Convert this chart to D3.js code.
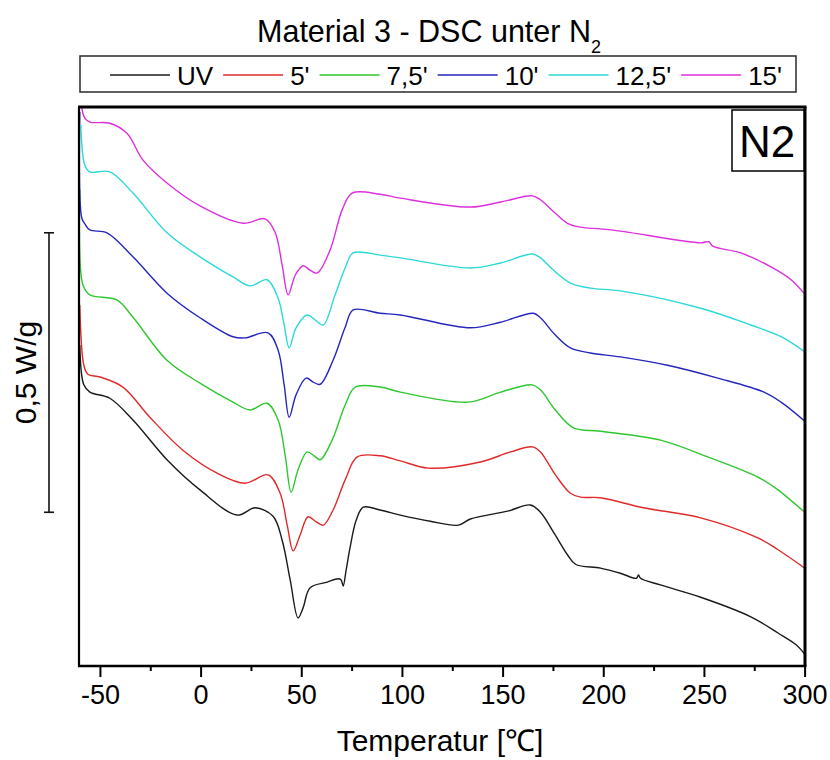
<!DOCTYPE html>
<html>
<head>
<meta charset="utf-8">
<script src="https://cdn.jsdelivr.net/npm/d3@7"></script>
<style>
  body { margin: 0; background: #fff; }
  svg { display: block; font-family: "Liberation Sans", Arial, Helvetica, sans-serif; }
</style>
</head>
<body>
<svg id="chart" width="830" height="760"></svg>
<script>
// DSC heat-flow traces (W/g, vertically offset) for different UV exposure times
const seriesNames = ["UV", "5'", "7,5'", "10'", "12,5'", "15'"];
const seriesColors = ["#1a1a1a", "#e02a2a", "#2fc72f", "#2626bf", "#2bd9d9", "#dc30dc"];

const uvTemp = [-60.0,-58.0,-55.0,-45.1,-33.6,-16.7,-0.3,18.1,27.1,36.0,40.5,44.5,48.4,50.9,54.4,62.9,68.3,69.8,70.8,72.3,74.3,77.3,80.8,89.2,99.2,114.1,128.0,134.0,152.5,163.8,168.8,176.2,182.2,186.2,198.6,208.5,216.5,217.5,218.5,228.4,248.4,273.3,286.8,295.8,300.1];
const uvFlow = [0.574,0.503,0.490,0.479,0.440,0.369,0.315,0.270,0.283,0.268,0.225,0.154,0.086,0.104,0.140,0.150,0.156,0.154,0.143,0.172,0.213,0.261,0.284,0.279,0.270,0.259,0.252,0.263,0.277,0.288,0.275,0.234,0.199,0.182,0.175,0.166,0.157,0.163,0.157,0.145,0.123,0.088,0.059,0.038,0.021];

const t5Temp = [-60,-58,-56,-50,-38.6,-25.2,-8.8,8.2,22.1,33.5,39.5,43.0,46.0,49.4,53.4,57.4,60.9,65.8,71.8,77.8,89.2,99.2,113.1,139.0,154.0,164.8,168.8,176.2,183.7,188.7,198.6,220.0,248.4,276.8,286.8,300.1];
const t5Flow = [0.646,0.538,0.522,0.517,0.499,0.445,0.386,0.345,0.327,0.342,0.309,0.252,0.206,0.234,0.267,0.258,0.252,0.279,0.333,0.374,0.376,0.367,0.354,0.365,0.383,0.392,0.383,0.342,0.309,0.302,0.301,0.283,0.265,0.229,0.208,0.175];

const t75Temp = [-60,-58.5,-55,-41.6,-33.6,-16.7,-0.3,16.1,24.6,33.0,38.5,42.0,45.0,48.4,52.9,56.4,59.4,65.3,71.8,76.8,89.2,99.2,133.0,149.0,164.8,168.8,176.2,185.2,198.6,228.4,251.9,276.8,286.8,300.1];
const t75Flow = [0.852,0.682,0.664,0.655,0.624,0.547,0.506,0.472,0.458,0.470,0.440,0.377,0.311,0.351,0.383,0.376,0.369,0.404,0.467,0.499,0.499,0.490,0.472,0.490,0.503,0.494,0.458,0.426,0.420,0.404,0.374,0.338,0.315,0.275];

const t10Temp = [-60,-59,-57.5,-55,-46.5,-33.6,-16.7,-0.3,16.1,22.1,33.5,38.5,41.5,44.0,47.4,52.4,55.9,59.4,65.8,71.8,75.8,89.2,99.2,134.0,149.0,165.3,168.8,176.2,183.7,193.6,208.5,231.9,256.9,279.8,288.3,300.1];
const t10Flow = [0.991,0.801,0.791,0.780,0.775,0.732,0.667,0.623,0.589,0.587,0.596,0.565,0.503,0.445,0.485,0.515,0.508,0.504,0.547,0.606,0.637,0.631,0.628,0.605,0.615,0.631,0.623,0.592,0.569,0.560,0.553,0.538,0.515,0.490,0.472,0.438];

const t125Temp = [-59.5,-57.5,-55,-45.1,-33.6,-16.7,-0.3,16.1,24.6,33.0,38.5,41.5,44.0,47.4,52.9,56.9,60.9,66.8,71.8,75.8,89.2,99.2,134.0,149.0,164.8,168.8,176.2,183.7,193.6,208.5,248.4,273.3,288.3,300.1];
const t125Flow = [0.968,0.896,0.884,0.884,0.846,0.775,0.732,0.696,0.680,0.691,0.658,0.610,0.569,0.605,0.628,0.619,0.610,0.664,0.712,0.739,0.735,0.730,0.712,0.721,0.737,0.730,0.705,0.685,0.676,0.671,0.640,0.610,0.589,0.562];

const t15Temp = [-59,-57.5,-55,-45.1,-36.6,-28.6,-16.7,-0.3,21.1,32.0,37.0,40.5,43.5,47.0,50.9,54.4,57.9,64.3,70.3,75.3,89.2,99.2,134.0,149.0,164.8,168.8,176.2,182.2,188.7,198.6,208.5,248.4,252.4,254.4,268.3,283.3,293.3,300.1];
const t15Flow = [0.998,0.980,0.973,0.971,0.953,0.905,0.864,0.823,0.792,0.800,0.776,0.717,0.664,0.699,0.716,0.708,0.703,0.744,0.816,0.846,0.844,0.837,0.821,0.830,0.841,0.834,0.810,0.792,0.785,0.782,0.778,0.757,0.759,0.751,0.739,0.714,0.691,0.665];

const majorTicks = [-50, 0, 50, 100, 150, 200, 250, 300];
const minorTicks = [-25, 25, 75, 125, 175, 225, 275];
const scaleBarBase = 0.275;   // W/g, lower end of the scale bar
const scaleBarSpan = 0.5;     // W/g
const scaleBarLabel = "0,5 W/g";

const temps = [uvTemp, t5Temp, t75Temp, t10Temp, t125Temp, t15Temp];
const flows = [uvFlow, t5Flow, t75Flow, t10Flow, t125Flow, t15Flow];
const series = seriesNames.map((name, i) => ({
  name, color: seriesColors[i],
  points: temps[i].map((t, j) => [t, flows[i][j]])
}));

const svg = d3.select("#chart");
const plot = { left: 79, right: 805, top: 107, bottom: 666 };

const x = d3.scaleLinear().domain([-60.4, 300.2]).range([plot.left, plot.right]);
const y = d3.scaleLinear().domain([0, 1]).range([plot.bottom, plot.top]);

// Title with subscript
const title = svg.append("text")
  .attr("x", 429).attr("y", 42)
  .attr("text-anchor", "middle")
  .attr("font-size", 30.5)
  .attr("fill", "#000");
title.append("tspan").text("Material 3 - DSC unter N");
title.append("tspan").attr("font-size", 18).attr("dy", 11).text("2");

// Legend box
const legend = svg.append("g");
legend.append("rect")
  .attr("x", 80).attr("y", 56).attr("width", 716).attr("height", 36)
  .attr("fill", "#fff").attr("stroke", "#2a2a2a").attr("stroke-width", 1.5);
let lx = 110;
series.forEach(s => {
  legend.append("line")
    .attr("x1", lx).attr("x2", lx + 60).attr("y1", 75).attr("y2", 75)
    .attr("stroke", s.color).attr("stroke-width", 1.6);
  const t = legend.append("text")
    .attr("x", lx + 67).attr("y", 85)
    .attr("font-size", 26).attr("fill", "#000")
    .text(s.name);
  lx = lx + 67 + t.node().getComputedTextLength() + 10;
});

// Clip region for the traces
svg.append("clipPath").attr("id", "plot-clip")
  .append("rect")
  .attr("x", plot.left).attr("y", plot.top)
  .attr("width", plot.right - plot.left).attr("height", plot.bottom - plot.top);

const line = d3.line()
  .x(d => x(d[0]))
  .y(d => y(d[1]))
  .curve(d3.curveCatmullRom.alpha(0.5));

const traces = svg.append("g").attr("clip-path", "url(#plot-clip)");
series.forEach(s => {
  traces.append("path")
    .datum(s.points)
    .attr("d", line)
    .attr("fill", "none")
    .attr("stroke", s.color)
    .attr("stroke-width", 1.4)
    .attr("stroke-linejoin", "round");
});

// Bottom axis: major ticks with labels, minor ticks without
const xAxis = d3.axisBottom(x)
  .tickValues(majorTicks)
  .tickFormat(d => String(d))
  .tickSize(11)
  .tickSizeOuter(0)
  .tickPadding(8);
const gx = svg.append("g")
  .attr("transform", `translate(0,${plot.bottom})`)
  .call(xAxis);
gx.select(".domain").remove();
gx.selectAll(".tick line").attr("stroke", "#000").attr("stroke-width", 2);
gx.selectAll(".tick text")
  .attr("font-size", 27)
  .attr("font-family", "\"Liberation Sans\", Arial, sans-serif")
  .attr("fill", "#000");

const xMinor = d3.axisBottom(x).tickValues(minorTicks).tickFormat("").tickSize(5).tickSizeOuter(0);
const gxm = svg.append("g")
  .attr("transform", `translate(0,${plot.bottom})`)
  .call(xMinor);
gxm.select(".domain").remove();
gxm.selectAll(".tick line").attr("stroke", "#000").attr("stroke-width", 2);

// Plot frame
svg.append("line").attr("x1", plot.left).attr("x2", plot.left)
  .attr("y1", plot.top).attr("y2", plot.bottom)
  .attr("stroke", "#000").attr("stroke-width", 2.2);
svg.append("line").attr("x1", plot.left - 1).attr("x2", plot.right + 1.5)
  .attr("y1", plot.bottom).attr("y2", plot.bottom)
  .attr("stroke", "#000").attr("stroke-width", 2.6);
svg.append("line").attr("x1", plot.left - 1).attr("x2", plot.right + 1.5)
  .attr("y1", plot.top).attr("y2", plot.top)
  .attr("stroke", "#000").attr("stroke-width", 3);
svg.append("line").attr("x1", plot.right).attr("x2", plot.right)
  .attr("y1", plot.top).attr("y2", plot.bottom)
  .attr("stroke", "#000").attr("stroke-width", 3);

// X axis title
svg.append("text")
  .attr("x", 440).attr("y", 751)
  .attr("text-anchor", "middle")
  .attr("font-size", 30)
  .attr("fill", "#000")
  .text("Temperatur [℃]");

// Scale bar for heat flow
const sbTop = y(scaleBarBase + scaleBarSpan);
const sbBot = y(scaleBarBase);
const sb = svg.append("g").attr("stroke", "#111").attr("stroke-width", 1.6);
sb.append("line").attr("x1", 49).attr("x2", 49).attr("y1", sbTop).attr("y2", sbBot);
sb.append("line").attr("x1", 44).attr("x2", 54).attr("y1", sbTop).attr("y2", sbTop);
sb.append("line").attr("x1", 44).attr("x2", 54).attr("y1", sbBot).attr("y2", sbBot);
svg.append("text")
  .attr("transform", `translate(36,${(sbTop + sbBot) / 2}) rotate(-90)`)
  .attr("text-anchor", "middle")
  .attr("font-size", 30)
  .attr("fill", "#000")
  .text(scaleBarLabel);

// Atmosphere tag in the upper-right corner
svg.append("rect")
  .attr("x", 732).attr("y", 110).attr("width", 72).attr("height", 61)
  .attr("fill", "#fff").attr("stroke", "#000").attr("stroke-width", 1.5);
svg.append("text")
  .attr("x", 767).attr("y", 157)
  .attr("text-anchor", "middle")
  .attr("font-size", 44)
  .attr("fill", "#000")
  .text("N2");
</script>
</body>
</html>
